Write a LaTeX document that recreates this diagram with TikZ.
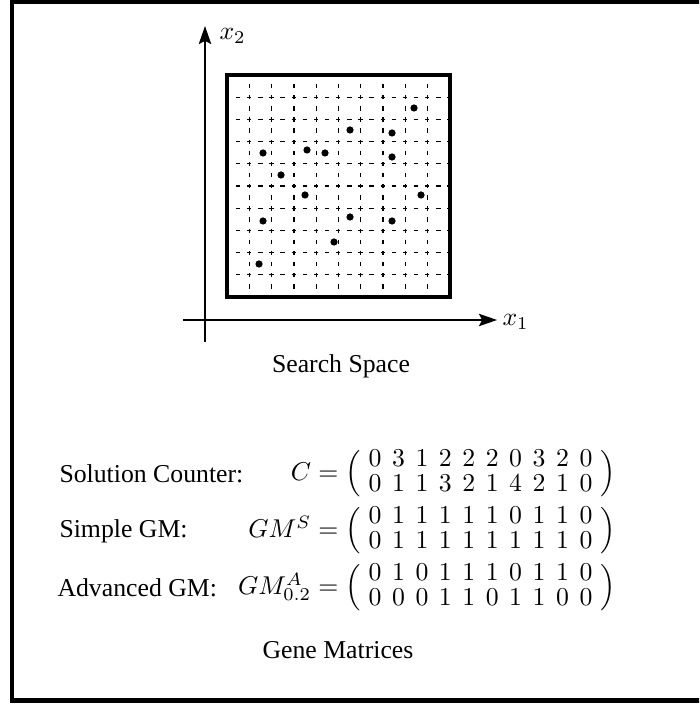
\documentclass[tikz,border=0pt]{standalone}
\usepackage[no-math]{fontspec}
\setmainfont{Liberation Serif}
\usetikzlibrary{arrows.meta}
\newcommand\rowmat[2]{\left(\renewcommand\arraystretch{0.8}\begin{array}{@{\hspace{3pt}}c*{9}{@{\hspace{4.1pt}}c}@{\hspace{3pt}}}#1\\#2\end{array}\right)}
\tikzset{
  frameline/.style={line width=1.94pt},
  boxline/.style={line width=1.4pt},
  gridline/.style={line width=0.5pt, dash pattern=on 1.7pt off 2.62pt, dash phase=0.85pt},
  axisline/.style={line width=0.7pt, -{Stealth[length=7pt,width=4.8pt,inset=1.2pt]}},
  dotmark/.style={fill=black},
  lbl/.style={inner sep=0pt, font=\fontsize{10}{12}\selectfont},
}
\begin{document}
\begin{tikzpicture}[x=0.3884pt, y=-0.3884pt]
\useasboundingbox (0,0) rectangle (699,706);
\begin{scope}
  \clip (0,0) rectangle (699,706);
  \draw[frameline] (12,2) rectangle (730,700.5);
\end{scope}
% grid
\foreach \k in {1,...,9}{
  \draw[gridline] ({227+22.3*\k},75) -- ({227+22.3*\k},297);
  \draw[gridline] (227,{75+22.2*\k}) -- (450,{75+22.2*\k});
}
\draw[boxline] (227,75) rectangle (450,297);
% axes
\coordinate (h0) at (183,320);
\coordinate (h1) at (497,320);
\coordinate (v0) at (205,342);
\coordinate (v1) at (205,26);
\draw[axisline] (h0) -- (h1);
\draw[axisline] (v0) -- (v1);
\node[lbl, anchor=west] (x1) at (502,322) {$x_1$};
\node[lbl, anchor=west] (x2) at (219,36) {$x_2$};
% dots
\foreach \px/\py in {414/108, 350/130, 392/133, 263/153, 307/150, 325/153, 392/157, 281/175, 305/195, 421/195, 350/217, 263/221, 392/221, 334/242, 259/264}{
  \fill[dotmark] (\px,\py) circle (1.4pt);
}
\node[lbl] (ss) at (341,366) {Search Space};
% matrices
\node[lbl, anchor=west] (l1) at (59,474) {Solution Counter:};
\node[lbl, anchor=east] (e1) at (616,474) {$C=\rowmat{0&3&1&2&2&2&0&3&2&0}{0&1&1&3&2&1&4&2&1&0}$};
\node[lbl, anchor=west] (l2) at (59,531) {Simple GM:};
\node[lbl, anchor=east] (e2) at (616,531) {$GM^S=\rowmat{0&1&1&1&1&1&0&1&1&0}{0&1&1&1&1&1&1&1&1&0}$};
\node[lbl, anchor=west] (l3) at (57,588) {Advanced GM:};
\node[lbl, anchor=east] (e3) at (616,588) {$GM^A_{0.2}=\rowmat{0&1&0&1&1&1&0&1&1&0}{0&0&0&1&1&0&1&1&0&0}$};
\node[lbl] (gm) at (338,650) {Gene Matrices};
\end{tikzpicture}
\end{document}
